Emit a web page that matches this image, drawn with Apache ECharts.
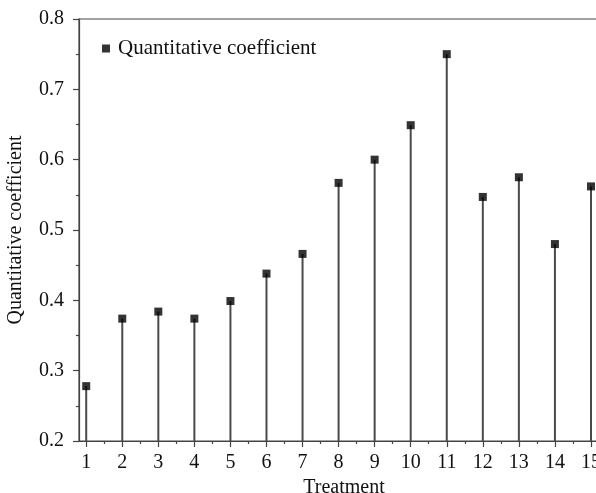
<!DOCTYPE html>
<html>
<head>
<meta charset="utf-8">
<script src="https://cdn.jsdelivr.net/npm/echarts@6/dist/echarts.min.js"></script>
<style>
html,body{margin:0;padding:0;background:#fff;}
#c{width:596px;height:493px;}
</style>
</head>
<body>
<div id="c"></div>
<script>
const treatments = [1,2,3,4,5,6,7,8,9,10,11,12,13,14,15];
const coefficients = [0.278,0.374,0.384,0.374,0.399,0.438,0.466,0.567,0.600,0.649,0.750,0.547,0.575,0.480,0.562];
const xTickLabels = [1,2,3,4,5,6,7,8,9,10,11,12,13,14,15];
const xMinorTicks = [1.5,2.5,3.5,4.5,5.5,6.5,7.5,8.5,9.5,10.5,11.5,12.5,13.5,14.5,15.5];
const yTickLabels = [0.2,0.3,0.4,0.5,0.6,0.7,0.8];
const seriesName = 'Quantitative coefficient';

const FONT = '"Liberation Serif", "Times New Roman", serif';
const points = treatments.map((t,i)=>[t, coefficients[i]]);

const chart = echarts.init(document.getElementById('c'), null, {renderer:'canvas'});
chart.setOption({
  animation:false,
  backgroundColor:'#fff',
  textStyle:{fontFamily:FONT},
  grid:{left:79, top:19, width:530, height:422, outerBoundsMode:'none', containLabel:false,
        show:true, borderColor:'#444', borderWidth:1.2, backgroundColor:'transparent'},
  legend:{
    data:[{name:seriesName, icon:'rect'}],
    left:97, top:33, itemWidth:8, itemHeight:8,
    textStyle:{fontFamily:FONT, fontSize:21, color:'#111', padding:[0,0,0,3]}
  },
  xAxis:[{
    type:'value', min:0.8, max:15.5,
    name:'Treatment', nameLocation:'middle', nameGap:34,
    nameTextStyle:{fontFamily:FONT, fontSize:20, color:'#111'},
    axisLine:{show:true, lineStyle:{color:'#444', width:1.2}},
    axisTick:{show:true, length:6, customValues:xTickLabels, lineStyle:{color:'#444', width:1.2}},
    axisLabel:{show:true, customValues:xTickLabels, margin:12, fontFamily:FONT, fontSize:20, color:'#111'},
    splitLine:{show:false}
  },{
    type:'value', min:0.8, max:15.5, position:'bottom',
    axisLine:{show:false},
    axisTick:{show:true, length:3, customValues:xMinorTicks, lineStyle:{color:'#444', width:1.2}},
    axisLabel:{show:false, customValues:xMinorTicks},
    splitLine:{show:false}
  }],
  yAxis:{
    type:'value', min:0.2, max:0.8, interval:0.1,
    name:'Quantitative coefficient', nameLocation:'middle', nameGap:53, nameRotate:90,
    nameTextStyle:{fontFamily:FONT, fontSize:20, color:'#111'},
    axisLine:{show:true, lineStyle:{color:'#444', width:1.2}},
    axisTick:{show:true, length:6, lineStyle:{color:'#444', width:1.2}},
    minorTick:{show:true, splitNumber:2, length:3, lineStyle:{color:'#444', width:1.2}},
    axisLabel:{margin:15, fontFamily:FONT, fontSize:20, color:'#111', formatter:v=>v.toFixed(1)},
    splitLine:{show:false}
  },
  series:[{
    type:'custom', name:'stems', silent:true, z:2,
    data:points,
    renderItem:function(params, api){
      const x = api.value(0), y = api.value(1);
      const p1 = api.coord([x, 0.2]);
      const p2 = api.coord([x, y]);
      return {type:'line', shape:{x1:p1[0], y1:p1[1], x2:p2[0], y2:p2[1]}, style:{stroke:'#4a4a4a', lineWidth:2}};
    }
  },{
    type:'scatter', name:seriesName, z:3,
    data:points, symbol:'rect', symbolSize:8,
    itemStyle:{color:'#000'}
  }]
});
</script>
</body>
</html>
